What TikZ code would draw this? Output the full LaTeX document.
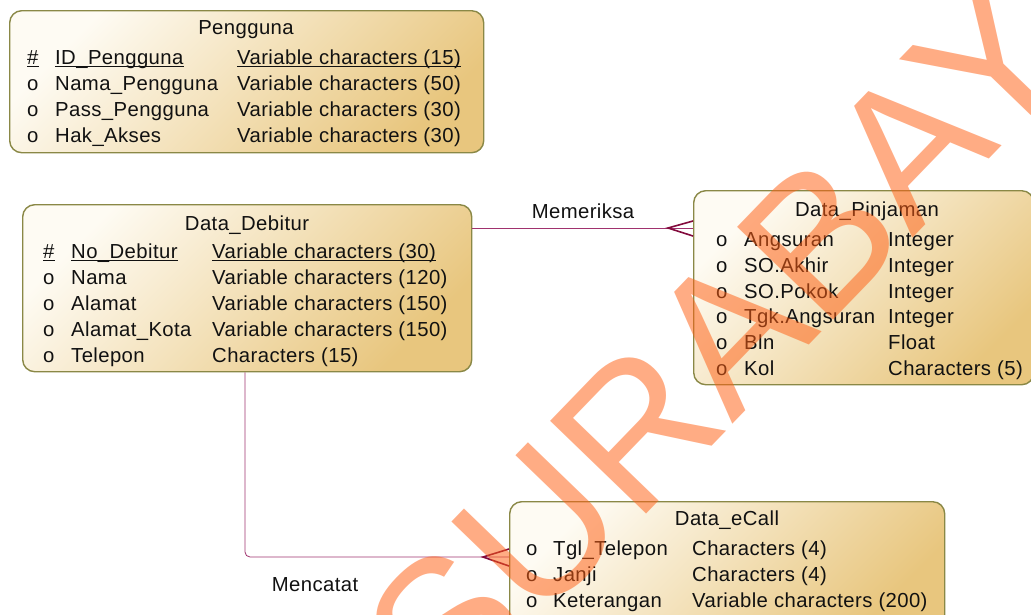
\documentclass[tikz,border=0pt]{standalone}
\usepackage{fontspec}
\setmainfont{Liberation Sans}
\newfontfamily\rowfam[LetterSpace=2.0]{Liberation Sans}
\definecolor{boxedge}{RGB}{138,136,70}
\definecolor{boxlight}{RGB}{254,251,243}
\definecolor{boxdark}{RGB}{232,198,126}
\definecolor{ink}{RGB}{17,17,17}
\definecolor{relline}{RGB}{160,50,110}
\definecolor{crowline}{RGB}{130,10,60}
\definecolor{wmark}{RGB}{255,95,20}
\newcommand{\rowfont}{\rowfam\fontsize{20.3}{24}\selectfont}
\begin{document}
\begin{tikzpicture}[x=1pt,y=-1pt,
  entity/.style={draw=boxedge, line width=1.4pt, rounded corners=12pt,
    top color=boxlight, bottom color=boxdark, shading angle=45,
    inner sep=0, anchor=north west},
  lbl/.style={inner sep=0, anchor=base west, font=\rowfont, text=ink},
  ttl/.style={inner sep=0, anchor=base, font=\rowfont, text=ink},
  rel/.style={draw=relline, line width=0.8pt},
  crow/.style={draw=crowline, line width=1.6pt},
  keyline/.style={draw=ink, line width=1pt}
]
\useasboundingbox (0,0) rectangle (1031,614);
\clip (0,0) rectangle (1031,614);

% ---------- entities ----------
\node[entity, minimum width=474pt, minimum height=142pt] (peng) at (9,10) {};
\node[entity, minimum width=449pt, minimum height=167pt] (deb) at (22,204) {};
\node[entity, minimum width=340pt, minimum height=194pt] (pin) at (693,190) {};
\node[entity, minimum width=435pt, minimum height=125pt] (cal) at (509,501) {};

% ---------- Pengguna ----------
\node[ttl] (pengT) at (246,34) {Pengguna};
\node[lbl] (pengK) at (27,64) {\#};
\node[lbl] (pengA1) at (55,64) {ID\_Pengguna};
\node[lbl] (pengB1) at (237,64) {Variable characters (15)};
\node[lbl] (pengM2) at (27,90) {o};
\node[lbl] (pengA2) at (55,90) {Nama\_Pengguna};
\node[lbl] (pengB2) at (237,90) {Variable characters (50)};
\node[lbl] (pengM3) at (27,116) {o};
\node[lbl] (pengA3) at (55,116) {Pass\_Pengguna};
\node[lbl] (pengB3) at (237,116) {Variable characters (30)};
\node[lbl] (pengM4) at (27,142) {o};
\node[lbl] (pengA4) at (55,142) {Hak\_Akses};
\node[lbl] (pengB4) at (237,142) {Variable characters (30)};
\foreach \n in {pengK,pengA1,pengB1}
  \draw[keyline] ([yshift=-2pt]\n.base west) -- ([yshift=-2pt]\n.base east);

% ---------- Data_Debitur ----------
\node[ttl] (debT) at (247,230) {Data\_Debitur};
\node[lbl] (debK) at (43,258) {\#};
\node[lbl] (debA1) at (71,258) {No\_Debitur};
\node[lbl] (debB1) at (212,258) {Variable characters (30)};
\node[lbl] (debM2) at (43,284) {o};
\node[lbl] (debA2) at (71,284) {Nama};
\node[lbl] (debB2) at (212,284) {Variable characters (120)};
\node[lbl] (debM3) at (43,310) {o};
\node[lbl] (debA3) at (71,310) {Alamat};
\node[lbl] (debB3) at (212,310) {Variable characters (150)};
\node[lbl] (debM4) at (43,336) {o};
\node[lbl] (debA4) at (71,336) {Alamat\_Kota};
\node[lbl] (debB4) at (212,336) {Variable characters (150)};
\node[lbl] (debM5) at (43,362) {o};
\node[lbl] (debA5) at (71,362) {Telepon};
\node[lbl] (debB5) at (212,362) {Characters (15)};
\foreach \n in {debK,debA1,debB1}
  \draw[keyline] ([yshift=-2pt]\n.base west) -- ([yshift=-2pt]\n.base east);

% ---------- Data_Pinjaman ----------
\node[ttl] (pinT) at (867,216) {Data\_Pinjaman};
\node[lbl] (pinM1) at (716,246) {o};
\node[lbl] (pinA1) at (744,246) {Angsuran};
\node[lbl] (pinB1) at (888,246) {Integer};
\node[lbl] (pinM2) at (716,272) {o};
\node[lbl] (pinA2) at (744,272) {SO.Akhir};
\node[lbl] (pinB2) at (888,272) {Integer};
\node[lbl] (pinM3) at (716,298) {o};
\node[lbl] (pinA3) at (744,298) {SO.Pokok};
\node[lbl] (pinB3) at (888,298) {Integer};
\node[lbl] (pinM4) at (716,323) {o};
\node[lbl] (pinA4) at (744,323) {Tgk.Angsuran};
\node[lbl] (pinB4) at (888,323) {Integer};
\node[lbl] (pinM5) at (716,349) {o};
\node[lbl] (pinA5) at (744,349) {Bln};
\node[lbl] (pinB5) at (888,349) {Float};
\node[lbl] (pinM6) at (716,375) {o};
\node[lbl] (pinA6) at (744,375) {Kol};
\node[lbl] (pinB6) at (888,375) {Characters (5)};

% ---------- Data_eCall ----------
\node[ttl] (calT) at (727,525) {Data\_eCall};
\node[lbl] (calM1) at (526,555) {o};
\node[lbl] (calA1) at (553,555) {Tgl\_Telepon};
\node[lbl] (calB1) at (692,555) {Characters (4)};
\node[lbl] (calM2) at (526,581) {o};
\node[lbl] (calA2) at (553,581) {Janji};
\node[lbl] (calB2) at (692,581) {Characters (4)};
\node[lbl] (calM3) at (526,607) {o};
\node[lbl] (calA3) at (553,607) {Keterangan};
\node[lbl] (calB3) at (692,607) {Variable characters (200)};

% ---------- relationship: Memeriksa ----------
\coordinate (memY) at (0,228);
\coordinate (memTip) at (668,228);
\coordinate (memUp) at (0,221);
\coordinate (memDn) at (0,236);
\draw[rel] (deb.east |- memY) -- (pin.west |- memY);
\draw[crow] (pin.west |- memUp) -- (memTip) -- (pin.west |- memDn);
\node[ttl] (memL) at (583,218) {Memeriksa};

% ---------- relationship: Mencatat ----------
\coordinate (mcX) at (245,0);
\coordinate (mcY) at (0,557);
\coordinate (mcTip) at (483,557);
\coordinate (mcUp) at (0,549);
\coordinate (mcDn) at (0,566);
\draw[rel, rounded corners=5pt] (deb.south -| mcX) -- (mcX |- mcY) -- (cal.west |- mcY);
\draw[crow] (cal.west |- mcUp) -- (mcTip) -- (cal.west |- mcDn);
\node[ttl] (mcL) at (315,591) {Mencatat};

% ---------- watermark ----------
\node[inner sep=0, rotate=46, font=\fontsize{194}{194}\selectfont,
  text=wmark, text opacity=0.52] (wm) at (757,303) {SURABAYA};
\end{tikzpicture}
\end{document}
